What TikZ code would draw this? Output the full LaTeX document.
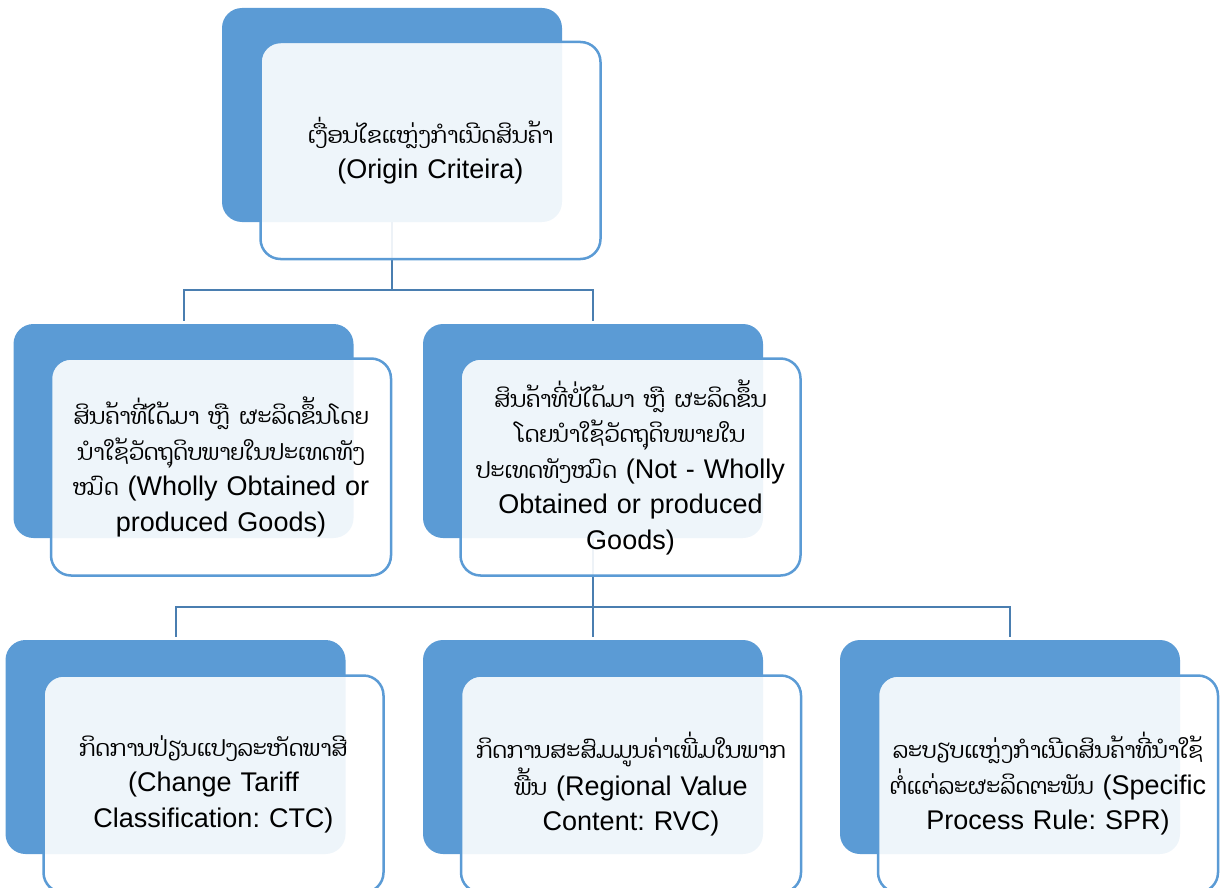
\documentclass[tikz,border=0pt]{standalone}
\usepackage{fontspec}
\setmainfont{Liberation Sans}
\newfontfamily\lao[Script=Lao,Scale=0.83]{Dhyana}
\usetikzlibrary{backgrounds}
\definecolor{acc}{HTML}{5B9BD5}
\definecolor{linec}{HTML}{4A7EB0}
\frenchspacing
\begin{document}
\begin{tikzpicture}[x=1pt,y=-1pt,
  back/.style={rounded corners=20pt, fill=acc, minimum width=340pt, minimum height=214pt, inner sep=0pt},
  front/.style={draw=acc, line width=2.5pt, fill=white, fill opacity=0.9, text opacity=1,
    rounded corners=20pt, minimum width=340pt, minimum height=217pt, inner sep=0pt,
    text width=336pt, align=center, font=\fontsize{27}{35.5}\selectfont},
  link/.style={draw=linec, line width=2pt}]
\useasboundingbox (0,0) rectangle (1220,888);
% level 0
\node[back] (b0) at (392,115) {};
\node[front] (f0) at (430.5,150.5) {{\lao ເງື່ອນໄຂແຫຼ່ງກຳເນີດສິນຄ້າ}\\(Origin Criteira)};
% level 1
\node[back] (b1) at (183.5,431) {};
\node[front] (f1) at (221,467) {{\lao ສິນຄ້າທີ່ໄດ້ມາ ຫຼື ຜະລິດຂຶ້ນໂດຍ}\\{\lao ນຳໃຊ້ວັດຖຸດິບພາຍໃນປະເທດທັງ}\\{\lao ໝົດ} (Wholly Obtained or\\produced Goods)};
\node[back] (b2) at (593,431) {};
\node[front] (f2) at (630.5,467) {{\lao ສິນຄ້າທີ່ບໍ່ໄດ້ມາ ຫຼື ຜະລິດຂຶ້ນ}\\{\lao ໂດຍນຳໃຊ້ວັດຖຸດິບພາຍໃນ}\\{\lao ປະເທດທັງໝົດ} (Not - Wholly\\Obtained or produced\\Goods)};
% level 2
\node[back] (b3) at (175.5,747) {};
\node[front] (f3) at (213.5,784) {{\lao ກິດການປ່ຽນແປງລະຫັດພາສີ}\\(Change Tariff\\Classification: CTC)};
\node[back] (b4) at (593,747) {};
\node[front] (f4) at (631,784) {{\lao ກິດການສະສົມມູນຄ່າເພີ່ມໃນພາກ}\\{\lao ພື້ນ} (Regional Value\\Content: RVC)};
\node[back] (b5) at (1010,747) {};
\node[front] (f5) at (1048,784) {{\lao ລະບຽບແຫຼ່ງກຳເນີດສິນຄ້າທີ່ນຳໃຊ້}\\{\lao ຕໍ່ແຕ່ລະຜະລິດຕະພັນ} (Specific\\Process Rule: SPR)};
\begin{scope}[on background layer]
\draw[link] (b0.south) -- ++(0,68) -| ([yshift=3pt]b1.north);
\draw[link] (b0.south) -- ++(0,68) -| ([yshift=3pt]b2.north);
\draw[link] (b2.south) -- ++(0,69) -| ([yshift=3pt]b3.north);
\draw[link] (b2.south) -- ++(0,69) -| ([yshift=3pt]b4.north);
\draw[link] (b2.south) -- ++(0,69) -| ([yshift=3pt]b5.north);
\end{scope}
\end{tikzpicture}
\end{document}
